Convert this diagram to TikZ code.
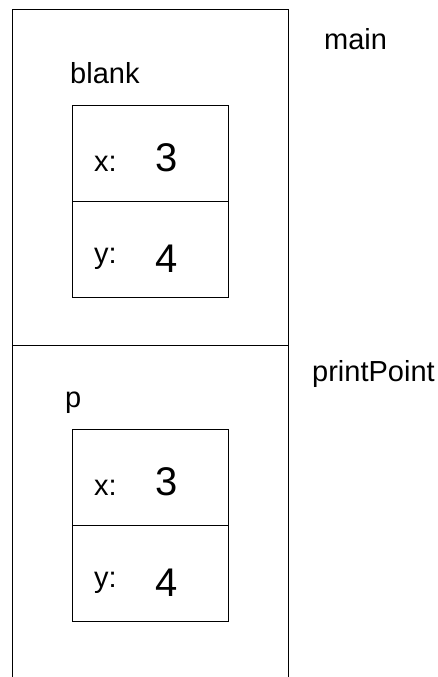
\documentclass[tikz,border=0pt]{standalone}
\usepackage{fontspec}
\setmainfont{Liberation Sans}
\begin{document}
\begin{tikzpicture}[x=1pt,y=-1pt,
  frame/.style={draw=black,line width=0.9pt},
  lbl/.style={anchor=base west,inner sep=0pt,font=\fontsize{29}{31}\selectfont},
  num/.style={anchor=base west,inner sep=0pt,font=\fontsize{40}{42}\selectfont}]
\useasboundingbox (0,0) rectangle (437,677);
% outer stack frame
\draw[frame] (12.5,677) -- (12.5,9.5) -- (288.5,9.5) -- (288.5,677);
\draw[frame] (12.5,345) -- (288.5,345);
% main frame
\node[lbl] (mainlbl) at (324,49) {main};
\node[lbl] (blank) at (70,84) {blank};
\draw[frame] (72,105) rectangle (228,297);
\draw[frame] (72,201) -- (228,201);
\node[lbl] (bx) at (94,171) {x:};
\node[num] (b3) at (155,171) {3};
\node[lbl] (by) at (94,263) {y:};
\node[num] (b4) at (155,272) {4};
% printPoint frame
\node[lbl] (pplbl) at (312,381) {printPoint};
\node[lbl] (p) at (65,407) {p};
\draw[frame] (72,429) rectangle (228,621);
\draw[frame] (72,525) -- (228,525);
\node[lbl] (px) at (94,495) {x:};
\node[num] (p3) at (155,495) {3};
\node[lbl] (py) at (94,587) {y:};
\node[num] (p4) at (155,596) {4};
\end{tikzpicture}
\end{document}
